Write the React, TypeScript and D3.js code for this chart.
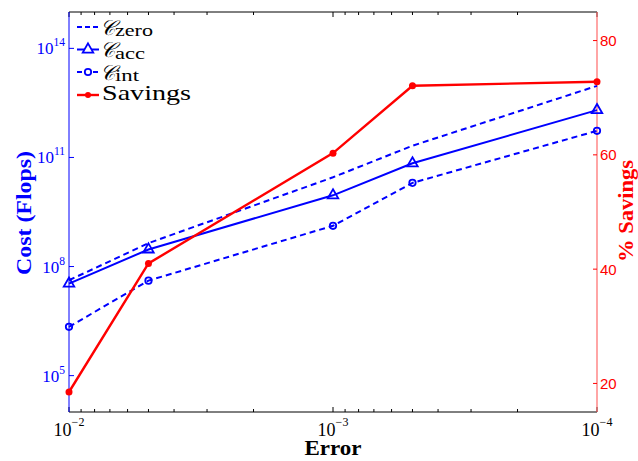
import React from "react";
import * as d3 from "d3";

const errors = [1e-2, 5e-3, 1e-3, 5e-4, 1e-4];
const costZero = [4.2e7, 4.4e8, 2.85e10, 2.1e11, 9.3e12];
const costAcc = [3.4e7, 2.95e8, 9.1e9, 6.9e10, 2.0e12];
const costInt = [2.2e6, 4.1e7, 1.32e9, 2.0e10, 5.4e11];
const savings = [18.5, 41.0, 60.3, 72.1, 72.8];

const xMajorTicks = [1e-2, 1e-3, 1e-4];
const xTickExps = ["−2", "−3", "−4"];
const leftTicks = [1e5, 1e8, 1e11, 1e14];
const leftTickExps = ["5", "8", "11", "14"];
const rightTicks = [20, 40, 60, 80];

const W = 638, H = 461;
const L = 69, R = 597, T = 12, B = 412;
const BLUE = "#0000ff";
const RED = "#ff0000";
const SERIF = "'Liberation Serif', 'Times New Roman', serif";
const SANS = "'Liberation Sans', Arial, sans-serif";

export default function App() {
  const x = d3.scaleLog().domain([1e-2, 1e-4]).range([L, R]);
  const yL = d3.scaleLog().domain([1e4, 1e15]).range([B, T]);
  const yR = d3.scaleLinear().domain([15, 85]).range([B, T]);

  const minor: number[] = [];
  [1e-4, 1e-3].forEach((d) => {
    for (let k = 2; k <= 9; k++) minor.push(k * d);
  });

  const lineL = d3
    .line<number>()
    .x((_, i) => x(errors[i]))
    .y((v) => yL(v));
  const lineR = d3
    .line<number>()
    .x((_, i) => x(errors[i]))
    .y((v) => yR(v));

  const tri = d3.symbol().type(d3.symbolTriangle).size(48)();

  const legendX0 = 77, legendX1 = 99, legendMid = 88;
  const rows = [27, 49.5, 72, 95];

  return (
    <svg width={W} height={H} style={{ position: "absolute", left: 0, top: 0, background: "#fff" }}>
      <rect x={0} y={0} width={W} height={H} fill="#fff" />
      {/* frame */}
      <line x1={L} x2={R} y1={T} y2={T} stroke="#000" strokeWidth={1} />
      <line x1={L} x2={R} y1={B} y2={B} stroke="#000" strokeWidth={1} />
      {/* x ticks */}
      {minor.map((v, i) => (
        <g key={"m" + i}>
          <line x1={x(v)} x2={x(v)} y1={B} y2={B - 3} stroke="#000" />
          <line x1={x(v)} x2={x(v)} y1={T} y2={T + 3} stroke="#000" />
        </g>
      ))}
      {xMajorTicks.map((v, i) => (
        <g key={"M" + i}>
          <line x1={x(v)} x2={x(v)} y1={B} y2={B - 5} stroke="#000" />
          <line x1={x(v)} x2={x(v)} y1={T} y2={T + 5} stroke="#000" />
          <text x={x(v)} y={436} textAnchor="middle" fontFamily={SERIF} fontSize={18} fill="#000">
            <tspan>10</tspan>
            <tspan fontSize={12} dy={-10}>{xTickExps[i]}</tspan>
          </text>
        </g>
      ))}
      {/* left axis */}
      <line x1={L} x2={L} y1={T} y2={B} stroke={BLUE} strokeWidth={1} />
      {leftTicks.map((v, i) => (
        <g key={"l" + i}>
          <line x1={L} x2={L + 5} y1={yL(v)} y2={yL(v)} stroke={BLUE} />
          <text x={65} y={yL(v) + 6} textAnchor="end" fontFamily={SERIF} fontSize={17} fill={BLUE}>
            <tspan>10</tspan>
            <tspan fontSize={11.5} dy={-8}>{leftTickExps[i]}</tspan>
          </text>
        </g>
      ))}
      {/* right axis */}
      <line x1={R} x2={R} y1={T} y2={B} stroke="#ff6a6a" strokeWidth={1.2} />
      {rightTicks.map((v, i) => (
        <g key={"r" + i}>
          <line x1={R} x2={R - 4} y1={yR(v)} y2={yR(v)} stroke={RED} />
          <text x={600} y={yR(v) + 5.5} fontFamily={SANS} fontSize={15} fill={RED}>
            {v}
          </text>
        </g>
      ))}
      {/* axis titles */}
      <text x={333} y={455} textAnchor="middle" fontFamily={SERIF} fontWeight="bold" fontSize={20}
        textLength={57} lengthAdjust="spacingAndGlyphs" fill="#000">Error</text>
      <text transform={`translate(31,213) rotate(-90)`} textAnchor="middle" fontFamily={SERIF} fontWeight="bold"
        fontSize={21} textLength={124} lengthAdjust="spacingAndGlyphs" fill={BLUE}>Cost (Flops)</text>
      <text transform={`translate(633,211) rotate(-90)`} textAnchor="middle" fontFamily={SERIF} fontWeight="bold"
        fontSize={21} textLength={102} lengthAdjust="spacingAndGlyphs" fill={RED}>% Savings</text>

      {/* series */}
      <path d={lineL(costZero) || ""} fill="none" stroke={BLUE} strokeWidth={2} strokeDasharray="6,4" />
      <path d={lineL(costAcc) || ""} fill="none" stroke={BLUE} strokeWidth={2} />
      {costAcc.map((v, i) => (
        <path key={"ta" + i} d={tri || ""} transform={`translate(${x(errors[i])},${yL(v)})`} fill="none" stroke={BLUE} strokeWidth={1.8} />
      ))}
      <path d={lineL(costInt) || ""} fill="none" stroke={BLUE} strokeWidth={2} strokeDasharray="6,4" />
      {costInt.map((v, i) => (
        <circle key={"ci" + i} cx={x(errors[i])} cy={yL(v)} r={3.2} fill="none" stroke={BLUE} strokeWidth={1.8} />
      ))}
      <path d={lineR(savings) || ""} fill="none" stroke={RED} strokeWidth={2.4} />
      {savings.map((v, i) => (
        <circle key={"s" + i} cx={x(errors[i])} cy={yR(v)} r={3.5} fill={RED} />
      ))}

      {/* legend */}
      <line x1={legendX0} x2={legendX1} y1={rows[0]} y2={rows[0]} stroke={BLUE} strokeWidth={2} strokeDasharray="5,3" />
      <line x1={legendX0} x2={legendX1} y1={rows[1]} y2={rows[1]} stroke={BLUE} strokeWidth={2} />
      <path d={tri || ""} transform={`translate(${legendMid},${rows[1]})`} fill="#fff" stroke={BLUE} strokeWidth={1.8} />
      <line x1={legendX0} x2={legendX1} y1={rows[2]} y2={rows[2]} stroke={BLUE} strokeWidth={2} strokeDasharray="5,3" />
      <circle cx={legendMid} cy={rows[2]} r={3.2} fill="#fff" stroke={BLUE} strokeWidth={1.8} />
      <line x1={legendX0} x2={legendX1} y1={rows[3]} y2={rows[3]} stroke={RED} strokeWidth={2.4} />
      <circle cx={legendMid} cy={rows[3]} r={3} fill={RED} />

      {[
        ["zero", 38],
        ["acc", 30],
        ["int", 24],
      ].map(([sub, w], i) => (
        <text key={"lg" + i} x={100} y={rows[i] + 7.5} fontFamily={SERIF} fill="#000">
          <tspan fontSize={21} fontStyle="italic">𝒞</tspan>
          <tspan fontSize={16} dy={1.5} textLength={w as number} lengthAdjust="spacingAndGlyphs">{sub}</tspan>
        </text>
      ))}
      <text x={102} y={rows[3] + 5} fontFamily={SERIF} fontSize={21} textLength={89} lengthAdjust="spacingAndGlyphs" fill="#000">
        Savings
      </text>
    </svg>
  );
}
